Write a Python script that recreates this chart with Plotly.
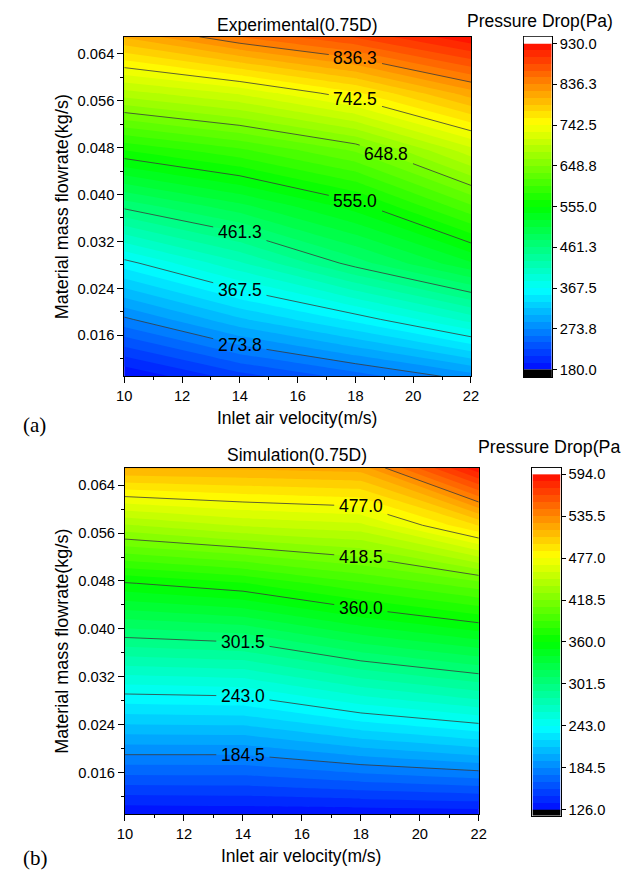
import numpy as np
import plotly.graph_objects as go

# ---------------- data ----------------
velocity = [10, 14, 18, 22]                      # inlet air velocity (m/s)
flowrate = [0.0090, 0.0187, 0.0283, 0.0380, 0.0476, 0.0573, 0.0669]  # kg/s

# pressure drop (Pa), rows = flowrate, cols = velocity
exp_dp = [
    [180, 220, 250, 282],
    [270, 318, 357, 405],
    [361, 412, 469, 522],
    [466, 503, 547, 615],
    [571, 599, 636, 706],
    [689, 714, 755, 814],
    [807, 852, 885, 928],
]
sim_dp = [
    [127, 128, 128, 129],
    [183, 183, 194, 203],
    [238, 240, 259, 273],
    [298, 303, 324, 339],
    [359, 369, 388, 406],
    [437, 449, 455, 497],
    [517, 518, 521, 592],
]

exp_range = [180.0, 930.0]
sim_range = [126.0, 594.0]
n_major = 8
n_sub = 6

x_ticks = [10, 12, 14, 16, 18, 20, 22]
y_ticks = [0.016, 0.024, 0.032, 0.040, 0.048, 0.056, 0.064]

# velocity at which each labelled contour carries its label (style choice)
exp_label_at = {1: 14, 2: 14, 3: 14, 4: 18, 5: 19.07, 6: 18, 7: 18}
sim_label_at = {1: 14, 2: 14, 3: 14, 4: 18, 5: 18, 6: 18}

FONT = "Liberation Sans, Arial, sans-serif"
RAINBOW = [[0.0, "rgb(0,0,255)"], [0.25, "rgb(0,255,255)"], [0.5, "rgb(0,255,0)"],
           [0.75, "rgb(255,255,0)"], [1.0, "rgb(255,0,0)"]]
LINE_COLOR = "#3a3a3a"
LABEL_SIZE = 17.5

W, H = 633, 877


def px(x):
    return x / W


def py(y):
    return 1 - y / H


fig = go.Figure()
annotations = []


def contour_path(xs, ys, Z, L):
    """Edge crossings of level L on the data grid (linear interpolation)."""
    Z = np.asarray(Z, float)
    pts = []
    for i, x in enumerate(xs):
        for j in range(len(ys) - 1):
            a, b = Z[j, i], Z[j + 1, i]
            if (a - L) * (b - L) < 0:
                t = (L - a) / (b - a)
                pts.append((x, ys[j] + t * (ys[j + 1] - ys[j])))
    for j, y in enumerate(ys):
        for i in range(len(xs) - 1):
            a, b = Z[j, i], Z[j, i + 1]
            if (a - L) * (b - L) < 0:
                t = (L - a) / (b - a)
                pts.append((xs[i] + t * (xs[i + 1] - xs[i]), y))
    pts = sorted(set(pts))
    return [p[0] for p in pts], [p[1] for p in pts]


def add_panel(z, zr, xa, ya, cxa, cya, label_at, xpix_per_unit):
    major = (zr[1] - zr[0]) / n_major
    cs = major / n_sub
    fig.add_trace(go.Contour(
        x=velocity, y=flowrate, z=z, xaxis=xa, yaxis=ya,
        colorscale=RAINBOW, showscale=False, hoverinfo="skip",
        contours=dict(coloring="fill", start=zr[0], end=zr[1], size=cs, showlines=False),
        line=dict(width=0, smoothing=0),
    ))
    # contour lines with horizontal labels
    for k in range(1, n_major):
        L = zr[0] + k * major
        cx, cy = contour_path(velocity, flowrate, z, L)
        if len(cx) < 2:
            continue
        if k in label_at and cx[0] < label_at[k] < cx[-1]:
            xl = label_at[k]
            text = f"{round(L + 1e-9, 1):.1f}"
            hw = (len(text) * 0.5 * LABEL_SIZE * 0.556 + 3) / xpix_per_unit
            yl = float(np.interp(xl, cx, cy))
            y0 = float(np.interp(xl - hw, cx, cy))
            y1 = float(np.interp(xl + hw, cx, cy))
            lx = [x for x in cx if x < xl - hw] + [xl - hw, None, xl + hw] + [x for x in cx if x > xl + hw]
            ly = [y for x, y in zip(cx, cy) if x < xl - hw] + [y0, None, y1] + \
                 [y for x, y in zip(cx, cy) if x > xl + hw]
            annotations.append(dict(text=text, x=xl, y=yl, xref=xa, yref=ya, showarrow=False,
                                    xanchor="center", yanchor="middle",
                                    font=dict(size=LABEL_SIZE, color="black", family=FONT)))
        else:
            lx, ly = cx, cy
        fig.add_trace(go.Scatter(x=lx, y=ly, xaxis=xa, yaxis=ya, mode="lines",
                                 line=dict(color=LINE_COLOR, width=0.8),
                                 hoverinfo="skip", showlegend=False))
    # colour bar drawn as a heatmap on its own axes
    edges = np.linspace(zr[0], zr[1], n_major * n_sub + 1)
    mids = (edges[:-1] + edges[1:]) / 2
    fig.add_trace(go.Heatmap(
        x=[0, 1], y=edges, z=[[m] for m in mids], xaxis=cxa, yaxis=cya,
        colorscale=RAINBOW, zmin=zr[0] - cs / 2, zmax=zr[1] + cs / 2,
        showscale=False, hoverinfo="skip",
    ))
    return major


maj_a = add_panel(exp_dp, exp_range, "x", "y", "x3", "y3", exp_label_at, (475 - 119.3) / 12)
maj_b = add_panel(sim_dp, sim_range, "x2", "y2", "x4", "y4", sim_label_at, (483 - 120) / 12)


def xaxis_cfg(dom, anchor):
    return dict(domain=dom, anchor=anchor, range=[10, 22], tickvals=x_ticks,
                ticks="outside", ticklen=6, tickwidth=1, tickcolor="black",
                minor=dict(tickvals=[11, 13, 15, 17, 19, 21], ticks="outside", ticklen=3,
                           tickcolor="black", tickwidth=1),
                showline=True, linecolor="black", linewidth=1, mirror=True,
                showgrid=False, zeroline=False,
                tickfont=dict(size=14.7, color="black", family=FONT))


def yaxis_cfg(dom, anchor):
    return dict(domain=dom, anchor=anchor, range=[0.0090, 0.0669], tickvals=y_ticks,
                tickformat=".3f", ticks="outside", ticklen=6, tickwidth=1, tickcolor="black",
                minor=dict(tickvals=[0.012, 0.020, 0.028, 0.036, 0.044, 0.052, 0.060],
                           ticks="outside", ticklen=3, tickcolor="black", tickwidth=1),
                showline=True, linecolor="black", linewidth=1, mirror=True,
                showgrid=False, zeroline=False,
                tickfont=dict(size=14.7, color="black", family=FONT))


def cb_axes(xdom, ydom, anchor_x, anchor_y, zr, ylo, yhi, major):
    vals = [zr[0] + i * major for i in range(n_major + 1)]
    xa = dict(domain=xdom, anchor=anchor_y, range=[0, 1], showticklabels=False, ticks="",
              showgrid=False, zeroline=False, showline=True, linecolor="black",
              linewidth=1, mirror=True)
    ya = dict(domain=ydom, anchor=anchor_x, side="right", range=[ylo, yhi],
              tickvals=vals, ticktext=[f"{round(v + 1e-9, 1):.1f}" for v in vals],
              ticks="outside", ticklen=4, tickcolor="black", tickwidth=1,
              showgrid=False, zeroline=False, showline=True, linecolor="black",
              linewidth=1, mirror=True,
              tickfont=dict(size=14.7, color="black", family=FONT))
    return xa, ya


fig.update_layout(
    xaxis=xaxis_cfg([px(119.3), px(475)], "y"),
    yaxis=yaxis_cfg([py(376), py(35)], "x"),
    xaxis2=xaxis_cfg([px(120), px(483)], "y2"),
    yaxis2=yaxis_cfg([py(816), py(468)], "x2"),
)

a_lo = exp_range[0] - 7.7 * (exp_range[1] - exp_range[0]) / 327.6
a_hi = exp_range[1] + 7.0 * (exp_range[1] - exp_range[0]) / 327.6
xa3, ya3 = cb_axes([px(529), px(558)], [py(377), py(34.7)], "x3", "y3", exp_range, a_lo, a_hi, maj_a)
b_lo = sim_range[0] - 6.0 * (sim_range[1] - sim_range[0]) / 337.2
b_hi = sim_range[1] + 6.3 * (sim_range[1] - sim_range[0]) / 337.2
xa4, ya4 = cb_axes([px(538), px(567)], [py(817.5), py(468)], "x4", "y4", sim_range, b_lo, b_hi, maj_b)
fig.update_layout(xaxis3=xa3, yaxis3=ya3, xaxis4=xa4, yaxis4=ya4)

shapes = [
    dict(type="rect", xref="x3", yref="y3", x0=0, x1=1, y0=exp_range[1], y1=a_hi,
         fillcolor="white", line=dict(width=0)),
    dict(type="rect", xref="x3", yref="y3", x0=0, x1=1, y0=a_lo, y1=exp_range[0],
         fillcolor="black", line=dict(width=0)),
    dict(type="rect", xref="x4", yref="y4", x0=0, x1=1, y0=sim_range[1], y1=b_hi,
         fillcolor="white", line=dict(width=0)),
    dict(type="rect", xref="x4", yref="y4", x0=0, x1=1, y0=b_lo, y1=sim_range[0],
         fillcolor="black", line=dict(width=0)),
]
fig.update_layout(shapes=shapes)


def ann(text, x, y, size, xanchor="center", angle=0, family=FONT):
    return dict(text=text, x=px(x), y=py(y), xref="paper", yref="paper", showarrow=False,
                xanchor=xanchor, yanchor="middle", textangle=angle,
                font=dict(size=size, color="black", family=family))


SERIF = "Liberation Serif, Times New Roman, serif"
annotations += [
    ann("Experimental(0.75D)", 297, 23, 17.5),
    ann("Pressure Drop(Pa)", 469, 19, 17.5, xanchor="left"),
    ann("Inlet air velocity(m/s)", 297, 418, 17.5),
    ann("Material mass flowrate(kg/s)", 55, 205.5, 18, angle=-90),
    ann("(a)", 13, 425, 21, xanchor="left", family=SERIF),
    ann("Simulation(0.75D)", 296, 455, 17.5),
    ann("Pressure Drop(Pa", 480, 447, 17.8, xanchor="left"),
    ann("Inlet air velocity(m/s)", 301, 858, 17.5),
    ann("Material mass flowrate(kg/s)", 55, 642, 18, angle=-90),
    ann("(b)", 13, 860, 21, xanchor="left", family=SERIF),
]
fig.update_layout(annotations=annotations)

fig.update_layout(
    width=W, height=H, autosize=False,
    margin=dict(l=0, r=0, t=0, b=0),
    paper_bgcolor="white", plot_bgcolor="white",
    showlegend=False,
    font=dict(family=FONT, color="black"),
)

fig.write_html(
    "out.html",
    config={"displayModeBar": False, "responsive": False},
    post_script="document.body.style.margin='0px';document.body.style.padding='0px';"
                "document.body.style.overflow='hidden';"
                "document.documentElement.style.overflow='hidden';",
)
